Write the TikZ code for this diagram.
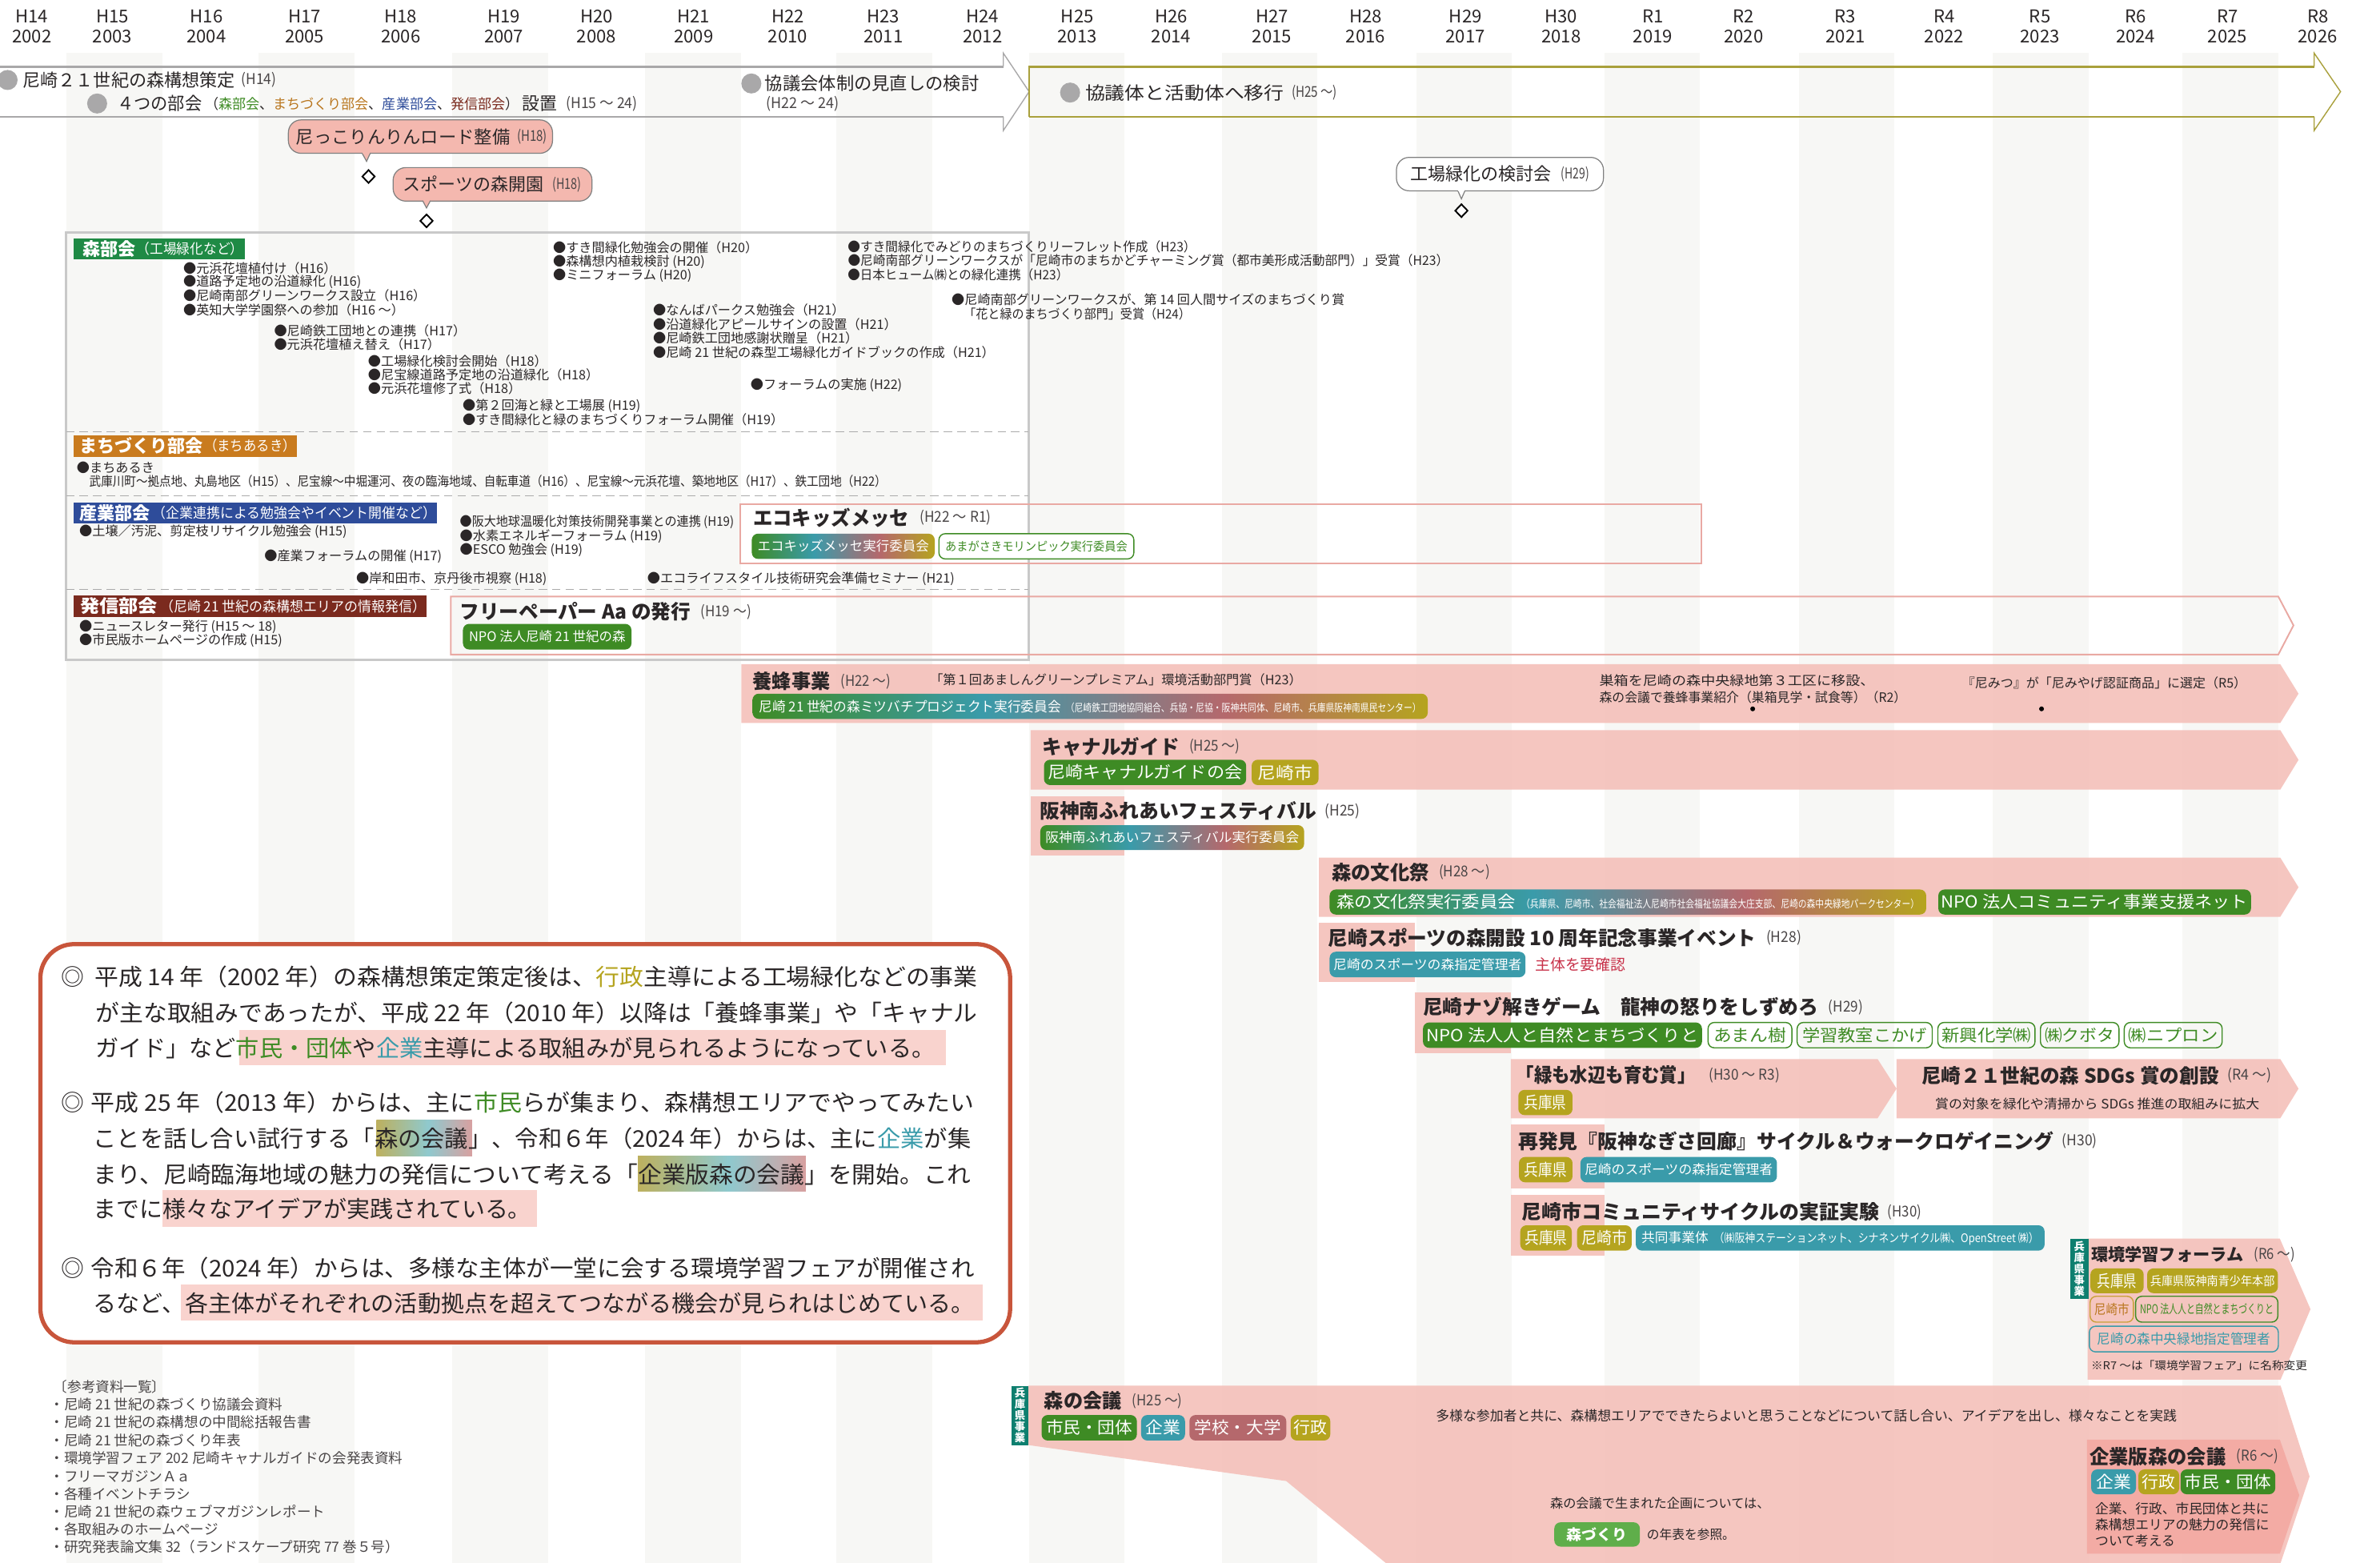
\documentclass[tikz,border=0pt]{standalone}
\usepackage{fontspec}
\usepackage{graphicx}
\setmainfont{Noto Sans CJK JP}
\usetikzlibrary{shapes.geometric}
\definecolor{ink}{HTML}{2A2627}
\definecolor{dim}{HTML}{4A4647}
\definecolor{stripec}{HTML}{F7F7F5}
\definecolor{grayl}{HTML}{A9A8A9}
\definecolor{olivel}{HTML}{A9A03C}
\definecolor{boxl}{HTML}{C9C9C9}
\definecolor{dashl}{HTML}{ABABAB}
\definecolor{bubc}{HTML}{F4B8AF}
\definecolor{bandc}{HTML}{F4BDB6}
\definecolor{bandd}{HTML}{F3ABA4}
\definecolor{hlc}{HTML}{F9D3CE}
\definecolor{frame}{HTML}{E9A9A3}
\definecolor{greenb}{HTML}{1F8A45}
\definecolor{orangeb}{HTML}{C97B1E}
\definecolor{blueb}{HTML}{2E4C9A}
\definecolor{redb}{HTML}{7B2A1E}
\definecolor{greenp}{HTML}{3E8B24}
\definecolor{olivep}{HTML}{B5A41F}
\definecolor{tealp}{HTML}{3A9BAA}
\definecolor{rosep}{HTML}{B5686C}
\definecolor{lgreen}{HTML}{5FAE4A}
\definecolor{tagc}{HTML}{0E7F6F}
\definecolor{orangep}{HTML}{C9A03A}
\definecolor{orangetx}{HTML}{B9761E}
\definecolor{redt}{HTML}{C8324A}
\definecolor{cbox}{HTML}{C8553B}
\definecolor{hlo}{HTML}{BDB05E}
\definecolor{hlt}{HTML}{8FC9CE}
\definecolor{hlr}{HTML}{D8A0A0}
\pgfdeclarehorizontalshading{gcol}{100bp}{color(0bp)=(greenp); color(25bp)=(greenp); color(42bp)=(tealp); color(60bp)=(rosep); color(75bp)=(olivep); color(100bp)=(olivep)}
\pgfdeclarehorizontalshading{hcol}{100bp}{color(0bp)=(hlo); color(25bp)=(hlo); color(52bp)=(hlt); color(75bp)=(hlr); color(100bp)=(hlr)}
\newdimen\ulen \ulen=0.5397pt
\newcommand\fz[1]{\fontsize{#1pt}{#1pt}\selectfont}
\newcommand\fw[2]{\resizebox{#1\ulen}{\height}{#2}}
\newcounter{tc}\newcounter{pc}
\newcommand\T[4][]{\stepcounter{tc}\node[txt,#1] (t\arabic{tc}) at (#2,#3) {#4};}
\newcommand\Tf[5][]{\pgfmathsetmacro\tmpw{#3-#2}\T[#1]{#2}{#4}{\fw{\tmpw}{#5}}}
\newcommand\Pa[4]{\Tf[parn]{#1}{#2}{#3}{#4}}
\newcommand\B[3]{\T[itemt]{#1}{#2}{●#3}}
\newcommand\Pl[6][]{\stepcounter{pc}\node[pill,#1,minimum width={(#3-#2)*0.5397pt},minimum height={(#5-#4)*0.5397pt}] (p\arabic{pc}) at ({(#2+#3)/2},{(#4+#5)/2}) {#6};}
\tikzset{
 txt/.style={anchor=west,inner sep=0pt,outer sep=0pt,text=ink},
 itemt/.style={font=\fz{4.6}},
 ttl/.style={font=\fz{7}\bfseries},
 parn/.style={font=\fz{5.3},text=dim},
 yrt/.style={anchor=center,inner sep=0pt,font=\fz{6.3},text=ink},
 main/.style={font=\fz{6.3}},
 para/.style={font=\fz{8.2}},
 refs/.style={font=\fz{5},text=dim},
 pill/.style={inner sep=0pt,outer sep=0pt,rounded corners=2.2pt,text=white,anchor=center,font=\fz{5.9}},
 pgreen/.style={fill=greenp},
 polive/.style={fill=olivep},
 pteal/.style={fill=tealp},
 prose/.style={fill=rosep},
 pgrad/.style={shade,shading=gcol},
 ogreen/.style={draw=greenp,line width=0.4pt,text=greenp},
 oorange/.style={draw=orangep,line width=0.4pt,text=orangetx},
 oteal/.style={draw=tealp,line width=0.4pt,text=tealp},
 band/.style={fill=bandc,opacity=.85},
 bub/.style={draw=gray,line width=0.35pt,rounded corners=4.5pt},
 diam/.style={diamond,draw=black,line width=0.55pt,fill=white,inner sep=0pt,minimum width=4.6pt,minimum height=4.8pt},
 banner/.style={font=\fz{6.3}\bfseries,text=white},
 bantail/.style={font=\fz{5},text=white},
 vtag/.style={inner sep=0pt,anchor=center,text=white,align=center,font=\fontsize{3.8pt}{4pt}\selectfont\bfseries}
}
\begin{document}
\begin{tikzpicture}[x=0.018967cm,y=-0.018967cm]
\useasboundingbox (0,0) rectangle (1568,1029.7);
\fill[white] (0,0) rectangle (1568,1029.7);
% stripes
\foreach \x in {44,170.5,298,425,551,678,805,933,1057,1185,1313,1438}
  \fill[stripec] (\x,34.6) rectangle (\x+63,1029.7);
% years
\foreach \x/\a/\b in {21/H14/2002,74/H15/2003,136/H16/2004,200.7/H17/2005,264/H18/2006,332/H19/2007,393/H20/2008,457/H21/2009,519/H22/2010,582/H23/2011,647.4/H24/2012,709.8/H25/2013,771.6/H26/2014,838/H27/2015,899.7/H28/2016,965.5/H29/2017,1028.5/H30/2018,1089/R1/2019,1148.7/R2/2020,1215.8/R3/2021,1280.8/R4/2022,1344/R5/2023,1407/R6/2024,1467.5/R7/2025,1527/R8/2026}{
  \node[yrt] (y\b a) at (\x,11) {\a};
  \node[yrt] (y\b b) at (\x,23.8) {\b};
}
% top arrows
\draw[grayl,line width=0.8pt] (0,43.9)--(661,43.9) (0,77)--(661,77);
\draw[grayl,line width=0.4pt] (661,43.9)--(661,35)--(678,60.4)--(661,86)--(661,77);
\draw[olivel,line width=0.8pt] (678,77)--(678,43.9)--(1524.6,43.9) (678,77)--(1524.6,77);
\draw[olivel,line width=0.4pt] (1524.6,43.9)--(1524.6,35)--(1542,60.4)--(1524.6,86)--(1524.6,77);
\fill[grayl] (5,52.7) circle (6.6);
\fill[grayl] (64,68.2) circle (6.6);
\fill[grayl] (495,55) circle (6.6);
\fill[grayl] (705,61) circle (6.6);
\Tf[main]{15}{155}{52.7}{尼崎２１世紀の森構想策定}
\Pa{159}{182}{52.7}{(H14)}
\Tf[main]{77}{133}{68.2}{４つの部会}
\Tf[font=\fz{5}]{135}{342}{68.2}{（{\color{greenp}森部会}、{\color{orangetx}まちづくり部会}、{\color{blueb}産業部会}、{\color{redb}発信部会}）}
\Tf[main]{344}{367}{68.2}{設置}
\Pa{373}{420}{68.2}{(H15 ～ 24)}
\Tf[main]{504}{645}{55}{協議会体制の見直しの検討}
\Pa{505}{553}{68.2}{(H22 ～ 24)}
\Tf[main]{715}{846}{61}{協議体と活動体へ移行}
\Pa{851}{881}{61}{(H25 ～)}
% bubbles
\coordinate (b1t) at (241.5,106.3);
\coordinate (b2t) at (281,137);
\coordinate (b3t) at (962.8,131);
\Pl[bub,fill=bubc]{190}{364}{79}{101}{}
\draw[gray,line width=0.35pt,fill=bubc] (238.5,100.8)--(b1t)--(244,100.8);
\fill[bubc] (238.9,100)--(243.6,100)--(243.6,101)--(238.9,101)--cycle;
\node[diam] (d1) at (242.8,116.3) {};
\Tf[main]{195}{336}{90}{尼っこりんりんロード整備}
\Pa{340.6}{360.5}{90}{(H18)}
\Pl[bub,fill=bubc]{259}{390}{110.4}{132.5}{}
\draw[gray,line width=0.35pt,fill=bubc] (278.5,132.3)--(b2t)--(283.5,132.3);
\fill[bubc] (278.9,131.5)--(283.1,131.5)--(283.1,132.6)--(278.9,132.6)--cycle;
\node[diam] (d2) at (281,145.5) {};
\Tf[main]{265.6}{358}{121.5}{スポーツの森開園}
\Pa{364}{383}{121.5}{(H18)}
\Pl[bub,fill=white]{920}{1056.4}{103.7}{125.7}{}
\draw[gray,line width=0.35pt,fill=white] (960.4,125.5)--(b3t)--(965.2,125.5);
\fill[white] (960.8,124.8)--(964.8,124.8)--(964.8,125.9)--(960.8,125.9)--cycle;
\node[diam] (d3) at (962.8,138.8) {};
\Tf[main]{929}{1022}{114.7}{工場緑化の検討会}
\Pa{1028.5}{1047}{114.7}{(H29)}
% main box
\draw[boxl,line width=0.8pt] (43.5,153) rectangle (677.7,434.8);
\draw[dashl,line width=0.4pt,dash pattern=on 3pt off 1.8pt] (43.5,284.3)--(677.7,284.3) (43.5,326.5)--(677.7,326.5) (43.5,388.3)--(677.7,388.3);
% banners
\fill[greenb] (48.7,157) rectangle (161.5,171);
\Tf[banner]{54.6}{89.5}{164}{森部会}
\Tf[bantail]{90}{160.5}{164}{（工場緑化など）}
\fill[orangeb] (48.7,286.6) rectangle (195.4,300.9);
\Tf[banner]{52.3}{133.7}{293.7}{まちづくり部会}
\Tf[bantail]{134.5}{195}{293.7}{（まちあるき）}
\fill[blueb] (48.7,330.9) rectangle (287.7,344.8);
\Tf[banner]{52.3}{98.9}{337.9}{産業部会}
\Tf[bantail]{100.5}{287.5}{337.9}{（企業連携による勉強会やイベント開催など）}
\fill[redb] (48.7,392.3) rectangle (280.8,406.4);
\Tf[banner]{52.8}{103.8}{399.4}{発信部会}
\Tf[bantail]{105.5}{280.5}{399.4}{（尼崎 21 世紀の森構想エリアの情報発信）}
% items forest
\B{120.8}{176.6}{元浜花壇植付け（H16）}
\B{120.8}{185.9}{道路予定地の沿道緑化 (H16)}
\B{120.8}{195}{尼崎南部グリーンワークス設立（H16）}
\B{120.8}{204.1}{英知大学学園祭への参加（H16 ～）}
\B{180.6}{217.7}{尼崎鉄工団地との連携（H17）}
\B{180.6}{226.9}{元浜花壇植え替え（H17）}
\B{242.5}{237.8}{工場緑化検討会開始（H18）}
\B{242.5}{246.9}{尼宝線道路予定地の沿道緑化（H18）}
\B{242.5}{256.1}{元浜花壇修了式（H18）}
\B{304.8}{267.2}{第２回海と緑と工場展 (H19)}
\B{304.8}{276.6}{すき間緑化と緑のまちづくりフォーラム開催（H19）}
\B{364.4}{163.3}{すき間緑化勉強会の開催（H20）}
\B{364.4}{172.3}{森構想内植栽検討 (H20)}
\B{364.4}{181.5}{ミニフォーラム (H20)}
\B{430.3}{204.1}{なんばパークス勉強会（H21）}
\B{430.3}{213.5}{沿道緑化アピールサインの設置（H21）}
\B{430.3}{222.8}{尼崎鉄工団地感謝状贈呈（H21）}
\B{430.3}{232}{尼崎 21 世紀の森型工場緑化ガイドブックの作成（H21）}
\B{494.5}{253.7}{フォーラムの実施 (H22)}
\Tf[itemt]{558.6}{788}{162.7}{●すき間緑化でみどりのまちづくりリーフレット作成（H23）}
\Tf[itemt]{558.6}{954.4}{171.7}{●尼崎南部グリーンワークスが「尼崎市のまちかどチャーミング賞（都市美形成活動部門）」受賞（H23）}
\Tf[itemt]{558.6}{704}{181.1}{●日本ヒューム㈱との緑化連携（H23）}
\Tf[itemt]{627}{885.8}{197.5}{●尼崎南部グリーンワークスが、第 14 回人間サイズのまちづくり賞}
\Tf[itemt]{635}{784.4}{207}{「花と緑のまちづくり部門」受賞（H24）}
% machi
\B{50.6}{308}{まちあるき}
\Tf[itemt]{58.9}{584}{317.3}{武庫川町～拠点地、丸島地区（H15）、尼宝線～中堀運河、夜の臨海地域、自転車道（H16）、尼宝線～元浜花壇、築地地区（H17）、鉄工団地（H22）}
% sangyo
\B{52.3}{350.3}{土壌／汚泥、剪定枝リサイクル勉強会 (H15)}
\B{174.2}{366.7}{産業フォーラムの開催 (H17)}
\B{234.7}{381.2}{岸和田市、京丹後市視察 (H18)}
\Tf[itemt]{303}{483.5}{343.9}{●阪大地球温暖化対策技術開発事業との連携 (H19)}
\B{303}{353.1}{水素エネルギーフォーラム (H19)}
\B{303}{362.3}{ESCO 勉強会 (H19)}
\B{426.5}{381.3}{エコライフスタイル技術研究会準備セミナー (H21)}
% hasshin
\B{52.3}{412.8}{ニュースレター発行 (H15 ～ 18)}
\B{52.3}{422}{市民版ホームページの作成 (H15)}
% eco kids
\draw[frame,line width=0.55pt] (487.7,332.2) rectangle (1121,371.4);
\Tf[ttl]{496.2}{599}{341.2}{エコキッズメッセ}
\Pa{606}{653}{341.2}{(H22 ～ R1)}
\Pl[pgrad]{495.3}{615.8}{351.6}{368.2}{\fz{4.7}\fw{113}{エコキッズメッセ実行委員会}}
\Pl[ogreen,fill=white]{618.6}{747}{351.6}{368.2}{\fz{4.3}\fw{120}{あまがさきモリンピック実行委員会}}
% free paper
\draw[frame,line width=0.55pt] (297,393)--(1501,393)--(1511,412)--(1501,431.2)--(297,431.2)--cycle;
\Tf[ttl]{303}{455}{403}{フリーペーパー Aa の発行}
\Pa{461.6}{495}{403}{(H19 ～)}
\Pl[pgreen]{305}{416}{411}{427.9}{\fz{4.7}\fw{103}{NPO 法人尼崎 21 世紀の森}}
% bands
\fill[band] (488.4,437.6)--(1502.3,437.6)--(1514.3,457)--(1502.3,476.3)--(488.4,476.3)--cycle;
\fill[band] (679,481)--(1502.3,481)--(1514.3,500.6)--(1502.3,520.2)--(679,520.2)--cycle;
\fill[band] (679,524.6) rectangle (740.5,563.4);
\fill[band] (869,565)--(1502.3,565)--(1514.3,584.5)--(1502.3,604)--(869,604)--cycle;
\fill[band] (869,607.7) rectangle (932.2,646.7);
\fill[band] (932.2,653.8) rectangle (995.4,693.6);
\fill[band] (995.4,697.7)--(1237,697.7)--(1249.5,717.2)--(1237,736.7)--(995.4,736.7)--cycle;
\fill[band] (1249.5,697.7)--(1502.3,697.7)--(1514.3,717.2)--(1502.3,736.7)--(1249.5,736.7)--cycle;
\fill[band] (995.4,740.7) rectangle (1057.3,782.9);
\fill[band] (995.4,787) rectangle (1057.3,827);
\fill[band] (1375.4,816)--(1502,816)--(1522.2,862.5)--(1502.5,908.9)--(1375.4,908.9)--cycle;
\fill[band] (677.5,912.9)--(1502.5,912.9)--(1521.6,972.7)--(1502.5,1029.7)--(913,1029.7)--(847.4,975.7)--(677.5,952)--cycle;
\fill[bandd] (1375,948.4)--(1502,948.4)--(1514.8,985)--(1502,1023.6)--(1375,1023.6)--cycle;
% youhou
\Tf[ttl]{496}{547}{449}{養蜂事業}
\Pa{554}{587}{449}{(H22 ～)}
\Tf[itemt]{612.8}{857.6}{448}{「第１回あましんグリーンプレミアム」環境活動部門賞（H23）}
\Pl[pgrad]{495.8}{940.6}{457}{473.6}{\fz{4.9}\fw{199}{尼崎 21 世紀の森ミツバチプロジェクト実行委員会}\hspace{1.6pt}\fz{3.8}\fw{234}{（尼崎鉄工団地協同組合、兵協・尼協・阪神共同体、尼崎市、兵庫県阪神南県民センター）}}
\Tf[itemt]{1053.7}{1235}{448.1}{巣箱を尼崎の森中央緑地第３工区に移設、}
\Tf[itemt]{1053.7}{1256}{459.6}{森の会議で養蜂事業紹介（巣箱見学・試食等）（R2）}
\fill[black] (1154.7,467) circle (1.6);
\Tf[itemt]{1292.7}{1480}{449.9}{『尼みつ』が「尼みやげ認証商品」に選定（R5）}
\fill[black] (1345,467) circle (1.6);
% canal
\Tf[ttl]{686.7}{776.9}{492}{キャナルガイド}
\Pa{783.6}{817}{492}{(H25 ～)}
\Pl[pgreen]{687.8}{821}{500.5}{517.2}{\fw{128}{尼崎キャナルガイドの会}}
\Pl[polive]{824.6}{868.7}{500.5}{517.2}{\fw{36}{尼崎市}}
% hanshin
\Tf[ttl]{685}{867.3}{534.3}{阪神南ふれあいフェスティバル}
\Pa{873}{896}{534.3}{(H25)}
\Pl[pgrad]{685.4}{859.2}{543.6}{560}{\fz{4.7}\fw{167}{阪神南ふれあいフェスティバル実行委員会}}
% bunka
\Tf[ttl]{877.4}{941.6}{574.7}{森の文化祭}
\Pa{948}{981.6}{574.7}{(H28 ～)}
\Pl[pgrad]{876}{1269}{586}{602.5}{\fw{118}{森の文化祭実行委員会}\hspace{2pt}\fz{3.8}\fw{262}{（兵庫県、尼崎市、社会福祉法人尼崎市社会福祉協議会大庄支部、尼崎の森中央緑地パークセンター）}}
\Pl[pgreen]{1277}{1483}{586}{602.5}{\fw{202}{NPO 法人コミュニティ事業支援ネット}}
% sports
\Tf[ttl]{875.2}{1157}{617.7}{尼崎スポーツの森開設 10 周年記念事業イベント}
\Pa{1163.6}{1186.8}{617.7}{(H28)}
\Pl[pteal]{876}{1005}{627}{643.8}{\fz{4.7}\fw{124}{尼崎のスポーツの森指定管理者}}
\Tf[font=\fz{5.4},text=redt]{1011.4}{1071}{635.3}{主体を要確認}
% nazo
\Tf[ttl]{937.5}{1198}{663.4}{尼崎ナゾ解きゲーム　龍神の怒りをしずめろ}
\Pa{1204.6}{1227.3}{663.4}{(H29)}
\Pl[pgreen]{937.5}{1121.3}{673.6}{690.3}{\fw{179}{NPO 法人人と自然とまちづくりと}}
\Pl[ogreen]{1125.3}{1180.5}{673.6}{690.3}{\fw{48}{あまん樹}}
\Pl[ogreen]{1184}{1273}{673.6}{690.3}{\fw{82}{学習教室こかげ}}
\Pl[ogreen]{1276.7}{1340.7}{673.6}{690.3}{\fw{59}{新興化学㈱}}
\Pl[ogreen]{1344.3}{1396}{673.6}{690.3}{\fw{46}{㈱クボタ}}
\Pl[ogreen]{1399.5}{1464}{673.6}{690.3}{\fw{59}{㈱ニプロン}}
% midori
\Tf[ttl]{999}{1117}{708.2}{「緑も水辺も育む賞」}
\Pa{1125.8}{1172.5}{708.2}{(H30 ～ R3)}
\Pl[polive]{1000.3}{1036}{718}{734.6}{\fw{28}{兵庫県}}
\Tf[ttl]{1266}{1461.8}{708.6}{尼崎２１世紀の森 SDGs 賞の創設}
\Pa{1467.6}{1496.5}{708.6}{(R4 ～)}
\Tf[itemt]{1274.9}{1488.5}{727.2}{賞の対象を緑化や清掃から SDGs 推進の取組みに拡大}
% nagisa
\Tf[ttl]{1000.3}{1352.8}{751.8}{再発見『阪神なぎさ回廊』サイクル＆ウォークロゲイニング}
\Pa{1358.5}{1381.7}{751.8}{(H30)}
\Pl[polive]{1000.7}{1036}{762.2}{778.9}{\fw{28}{兵庫県}}
\Pl[pteal]{1041.2}{1170.7}{762.2}{778.9}{\fz{4.7}\fw{124}{尼崎のスポーツの森指定管理者}}
% cycle
\Tf[ttl]{1002.5}{1238}{798.4}{尼崎市コミュニティサイクルの実証実験}
\Pa{1243.7}{1266}{798.4}{(H30)}
\Pl[polive]{1001.6}{1035.5}{807.2}{823.9}{\fw{28}{兵庫県}}
\Pl[polive]{1039}{1075}{807.2}{823.9}{\fw{30}{尼崎市}}
\Pl[pteal]{1077.7}{1347}{807.2}{823.9}{\fz{4.7}\fw{44}{共同事業体}\hspace{2pt}\fz{4.2}\fw{214}{（㈱阪神ステーションネット、シナネンサイクル㈱、OpenStreet ㈱）}}
% forum
\fill[tagc] (1363.9,816) rectangle (1375.9,855.5);
\node[vtag] (tag1) at (1369.9,835.7) {兵\\庫\\県\\事\\業};
\Tf[ttl,font=\fz{6}\bfseries]{1377.7}{1478}{826.3}{環境学習フォーラム}
\Pa{1485}{1512}{826.3}{(R6 ～)}
\Pl[polive]{1377.2}{1412.3}{835.6}{851.9}{\fw{26}{兵庫県}}
\Pl[polive]{1414.6}{1500.7}{835.6}{851.9}{\fz{4.4}\fw{82}{兵庫県阪神南青少年本部}}
\Pl[oorange]{1377}{1405.5}{854}{871}{\fz{4.8}\fw{23}{尼崎市}}
\Pl[ogreen]{1407}{1500.7}{854}{871}{\fz{4.4}\fw{88}{NPO 法人人と自然とまちづくりと}}
\Pl[oteal]{1376.5}{1501}{873.7}{890.6}{\fz{4.9}\fw{114}{尼崎の森中央緑地指定管理者}}
\Tf[font=\fz{3.9}]{1377.7}{1520}{899.7}{※R7 ～は「環境学習フェア」に名称変更}
% mori no kaigi
\fill[tagc] (666.5,913) rectangle (677.5,952);
\node[vtag] (tag2) at (672,932.5) {兵\\庫\\県\\事\\業};
\Tf[ttl]{688}{739}{923}{森の会議}
\Pa{746}{779}{923}{(H25 ～)}
\Pl[pgreen]{686.2}{749}{932.2}{949}{\fw{57}{市民・団体}}
\Pl[pteal]{751.8}{780.7}{932.2}{949}{\fw{23}{企業}}
\Pl[prose]{783.6}{847.4}{932.2}{949}{\fw{57}{学校・大学}}
\Pl[polive]{850.3}{876.4}{932.2}{949}{\fw{22}{行政}}
\Tf[font=\fz{4.85}]{946}{1434}{932.8}{多様な参加者と共に、森構想エリアでできたらよいと思うことなどについて話し合い、アイデアを出し、様々なことを実践}
\Tf[itemt]{1021.3}{1166}{990.2}{森の会議で生まれた企画については、}
\Pl[fill=lgreen,font=\fz{5.2}\bfseries]{1024}{1080.4}{1002.9}{1018.9}{\fw{40}{森づくり}}
\Tf[itemt]{1085}{1143}{1011}{の年表を参照。}
% kigyo
\Tf[ttl]{1376.8}{1466.5}{959.5}{企業版森の会議}
\Pa{1473.5}{1501}{959.5}{(R6 ～)}
\Pl[pteal]{1377.7}{1407.2}{968}{984.4}{\fw{23}{企業}}
\Pl[polive]{1408.8}{1435.7}{968}{984.4}{\fw{22}{行政}}
\Pl[pgreen]{1436.6}{1499}{968}{984.4}{\fw{57}{市民・団体}}
\Tf[font=\fz{4.75}]{1380.4}{1495}{993.8}{企業、行政、市民団体と共に}
\Tf[font=\fz{4.75}]{1380.4}{1495}{1004.3}{森構想エリアの魅力の発信に}
\Tf[font=\fz{4.75}]{1380.4}{1433}{1014.8}{ついて考える}
% commentary
\draw[cbox,line width=1.5pt,fill=white,rounded corners=12pt] (26.6,622) rectangle (665.5,884.3);
\fill[hlc] (157.8,678.3) rectangle (623.4,701.9);
\shade[shading=hcol] (248,737.8) rectangle (311,761.7);
\shade[shading=hcol] (420.3,761.4) rectangle (530.9,785);
\fill[hlc] (107,784) rectangle (354,808);
\fill[hlc] (119,846) rectangle (647.5,869.7);
\T[para]{40.5}{643.4}{◎}
\Tf[para]{62.3}{644}{643.4}{平成 14 年（2002 年）の森構想策定策定後は、{\color{olivep}行政}主導による工場緑化などの事業}
\Tf[para]{63.1}{644}{667}{が主な取組みであったが、平成 22 年（2010 年）以降は「養蜂事業」や「キャナル}
\Tf[para]{63.1}{616}{690.6}{ガイド」など{\color{greenp}市民・団体}や{\color{tealp}企業}主導による取組みが見られるようになっている。}
\T[para]{40.5}{726.4}{◎}
\Tf[para]{60.1}{641.9}{726.4}{平成 25 年（2013 年）からは、主に{\color{greenp}市民}らが集まり、森構想エリアでやってみたい}
\Tf[para]{61.4}{639.7}{750}{ことを話し合い試行する「森の会議」、令和６年（2024 年）からは、主に{\color{tealp}企業}が集}
\Tf[para]{61.4}{639.7}{773.5}{まり、尼崎臨海地域の魅力の発信について考える「企業版森の会議」を開始。これ}
\Tf[para]{61.4}{350}{796.6}{までに様々なアイデアが実践されている。}
\T[para]{40.5}{835.2}{◎}
\Tf[para]{60.1}{641.9}{835.2}{令和６年（2024 年）からは、多様な主体が一堂に会する環境学習フェアが開催され}
\Tf[para]{61.4}{641.9}{858.8}{るなど、各主体がそれぞれの活動拠点を超えてつながる機会が見られはじめている。}
% references
\T[refs]{35.3}{913.4}{〔参考資料一覧〕}
\T[refs]{33}{925.2}{・尼崎 21 世紀の森づくり協議会資料}
\T[refs]{33}{936.9}{・尼崎 21 世紀の森構想の中間総括報告書}
\T[refs]{33}{948.9}{・尼崎 21 世紀の森づくり年表}
\T[refs]{33}{960.3}{・環境学習フェア 202 尼崎キャナルガイドの会発表資料}
\T[refs]{33}{972.6}{・フリーマガジンＡａ}
\T[refs]{33}{984}{・各種イベントチラシ}
\T[refs]{33}{995.8}{・尼崎 21 世紀の森ウェブマガジンレポート}
\T[refs]{33}{1007.4}{・各取組みのホームページ}
\T[refs]{33}{1019.2}{・研究発表論文集 32（ランドスケープ研究 77 巻５号）}
\end{tikzpicture}
\end{document}
